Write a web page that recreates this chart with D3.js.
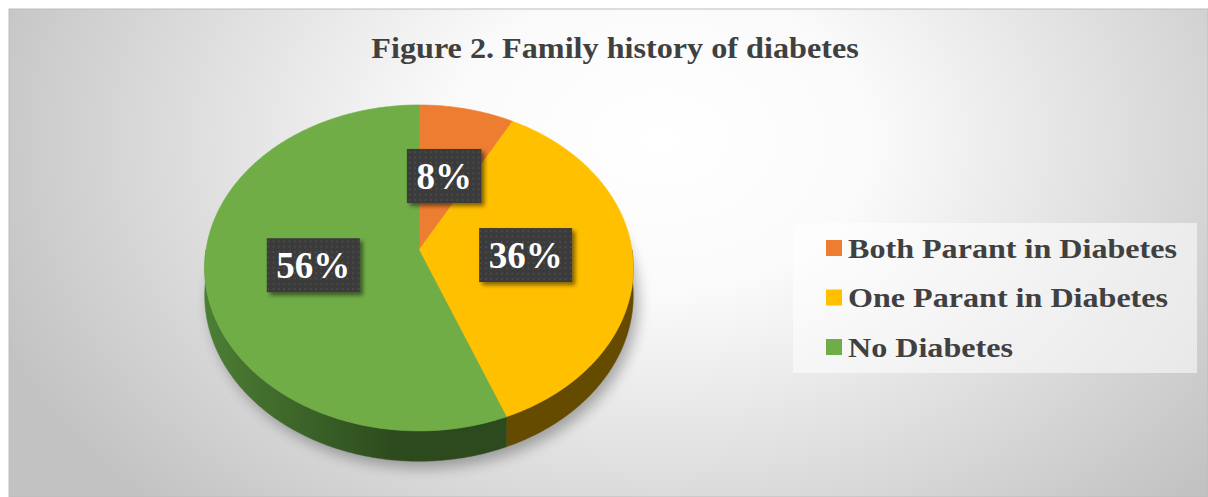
<!DOCTYPE html>
<html>
<head>
<meta charset="utf-8">
<script src="https://cdn.jsdelivr.net/npm/d3@7"></script>
<style>
  html, body { margin: 0; padding: 0; background: #fff; }
  svg { display: block; }
</style>
</head>
<body>
<svg id="chart"></svg>
<script>
const title = 'Figure 2. Family history of diabetes'
const categories = ['Both Parant in Diabetes', 'One Parant in Diabetes', 'No Diabetes']
const values = [8, 36, 56]

const width = 1208
const height = 497
const topColors = ['#ED7D31', '#FFC000', '#70AD47']
const sideLight = ['#8a4a1c', '#6e5200', '#4c7e34']
const sideDark = ['#7a3f15', '#654b00', '#2c4a1d']
const serif = '"Liberation Serif", "Times New Roman", serif'

const svg = d3.select('#chart').attr('width', width).attr('height', height)
const defs = svg.append('defs')

// background radial gradient
const bg = defs.append('radialGradient')
  .attr('id', 'bg')
  .attr('gradientUnits', 'userSpaceOnUse')
  .attr('cx', 660).attr('cy', 140).attr('r', 720)
  .attr('gradientTransform', 'translate(660,140) scale(1,0.72) translate(-660,-140)')
bg.append('stop').attr('offset', 0).attr('stop-color', '#ffffff')
bg.append('stop').attr('offset', 0.3).attr('stop-color', '#fafafa')
bg.append('stop').attr('offset', 1).attr('stop-color', '#c2c2c2')

svg.append('rect')
  .attr('x', 9).attr('y', 9)
  .attr('width', width - 9).attr('height', height - 9)
  .attr('fill', 'url(#bg)')
  .attr('stroke', '#bdbdbd')
  .attr('stroke-width', 1)

// title
svg.append('text')
  .attr('transform', 'translate(615,58) scale(1.11,1)')
  .attr('text-anchor', 'middle')
  .attr('font-family', serif)
  .attr('font-weight', 'bold')
  .attr('font-size', 29)
  .attr('fill', '#404040')
  .text(title)

// 3d pie geometry (simple perspective)
const cx = 419
const cy = 250
const R = 213
const Rk = 161
const p = 0.11
const depth = 27

function proj (a, f, z) {
  const s = 1 / (1 + p * f * Math.cos(a))
  return [cx + R * f * Math.sin(a) * s, cy - Rk * f * Math.cos(a) * s + z * s]
}

const color = d3.scaleOrdinal().domain(categories).range(topColors)
const pie = d3.pie().sort(null).value(d => d.value)
const data = categories.map((c, i) => ({ name: c, value: values[i], i }))
const arcs = pie(data)
const total = d3.sum(values)
const pct = d3.format('.0%')

function arcPoints (a0, a1, z) {
  const n = Math.max(2, Math.ceil((a1 - a0) / 0.01))
  return d3.range(n + 1).map(k => proj(a0 + (a1 - a0) * k / n, 1, z))
}
const line = d3.line()

// shadow
const shadow = defs.append('filter').attr('id', 'pieShadow')
  .attr('x', '-20%').attr('y', '-20%').attr('width', '140%').attr('height', '140%')
shadow.append('feGaussianBlur').attr('stdDeviation', 7)
svg.append('path')
  .attr('d', line(arcPoints(0, 2 * Math.PI, depth + 6)) + 'Z')
  .attr('transform', 'translate(5,0)')
  .attr('fill', '#000')
  .attr('opacity', 0.3)
  .attr('filter', 'url(#pieShadow)')

// side gradients
arcs.forEach((d, i) => {
  const g = defs.append('linearGradient')
    .attr('id', 'side' + i)
    .attr('gradientUnits', 'userSpaceOnUse')
    .attr('x1', cx - R).attr('x2', cx + R).attr('y1', 0).attr('y2', 0)
  g.append('stop').attr('offset', 0).attr('stop-color', sideLight[i])
  g.append('stop').attr('offset', 0.45).attr('stop-color', sideDark[i])
  g.append('stop').attr('offset', 1).attr('stop-color', sideDark[i])
})

// visible front walls
const sides = svg.append('g').attr('class', 'sides')
arcs.forEach((d, i) => {
  const b0 = Math.max(d.startAngle, Math.PI / 2)
  const b1 = Math.min(d.endAngle, 3 * Math.PI / 2)
  if (b1 <= b0) return
  const pts = arcPoints(b0, b1, 0).concat(arcPoints(b0, b1, depth).reverse())
  sides.append('path')
    .attr('d', line(pts) + 'Z')
    .attr('fill', `url(#side${i})`)
    .attr('stroke', `url(#side${i})`)
    .attr('stroke-width', 0.5)
})

// top faces
const tops = svg.append('g').attr('class', 'tops')
tops.selectAll('path')
  .data(arcs)
  .join('path')
  .attr('d', d => line([[cx, cy]].concat(arcPoints(d.startAngle, d.endAngle, 0))) + 'Z')
  .attr('fill', d => color(d.data.name))
  .attr('stroke', d => color(d.data.name))
  .attr('stroke-width', 0.6)

// data labels
const dots = defs.append('pattern')
  .attr('id', 'dots')
  .attr('patternUnits', 'userSpaceOnUse')
  .attr('width', 5.3).attr('height', 5.3)
dots.append('rect').attr('width', 5.3).attr('height', 5.3).attr('fill', '#3a3a3a')
dots.append('rect').attr('x', 2).attr('y', 2).attr('width', 1.4).attr('height', 1.4).attr('fill', '#575757')

const boxShadow = defs.append('filter').attr('id', 'boxShadow')
  .attr('x', '-30%').attr('y', '-30%').attr('width', '160%').attr('height', '160%')
boxShadow.append('feGaussianBlur').attr('in', 'SourceAlpha').attr('stdDeviation', 2).attr('result', 'b')
boxShadow.append('feOffset').attr('in', 'b').attr('dx', 3).attr('dy', 3).attr('result', 'o')
boxShadow.append('feComponentTransfer').attr('in', 'o').attr('result', 'oc')
  .append('feFuncA').attr('type', 'linear').attr('slope', 0.5)
const bm = boxShadow.append('feMerge')
bm.append('feMergeNode').attr('in', 'oc')
bm.append('feMergeNode').attr('in', 'SourceGraphic')

const labels = svg.append('g').attr('class', 'labels')
  .attr('font-family', serif)
  .attr('font-weight', 'bold')
  .attr('font-size', 37)
arcs.forEach(d => {
  const mid = (d.startAngle + d.endAngle) / 2
  const [lx, ly] = proj(mid, 0.5, 0)
  const txt = pct(d.value / total)
  const g = labels.append('g').attr('transform', `translate(${lx},${ly})`)
  const rect = g.append('rect').attr('fill', 'url(#dots)').attr('filter', 'url(#boxShadow)')
  const t = g.append('text')
    .attr('text-anchor', 'middle')
    .attr('dy', 13)
    .attr('fill', '#ffffff')
    .text(txt)
  const w = t.node().getComputedTextLength() + 19
  rect.attr('x', -w / 2).attr('y', -27).attr('width', w).attr('height', 54)
})

// legend
const legend = svg.append('g').attr('class', 'legend')
legend.append('rect')
  .attr('x', 793).attr('y', 223).attr('width', 404).attr('height', 150)
  .attr('fill', '#ffffff').attr('opacity', 0.55)
const ly = d3.scalePoint().domain(categories).range([248, 347])
const items = legend.selectAll('g.item')
  .data(categories)
  .join('g')
  .attr('class', 'item')
  .attr('transform', d => `translate(826,${ly(d)})`)
items.append('rect')
  .attr('x', 0).attr('y', -8).attr('width', 16).attr('height', 16)
  .attr('fill', d => color(d))
items.append('text')
  .attr('transform', 'translate(22,9.5) scale(1.147,1)')
  .attr('font-family', serif)
  .attr('font-weight', 'bold')
  .attr('font-size', 28)
  .attr('fill', '#404040')
  .text(d => d)
</script>
</body>
</html>
